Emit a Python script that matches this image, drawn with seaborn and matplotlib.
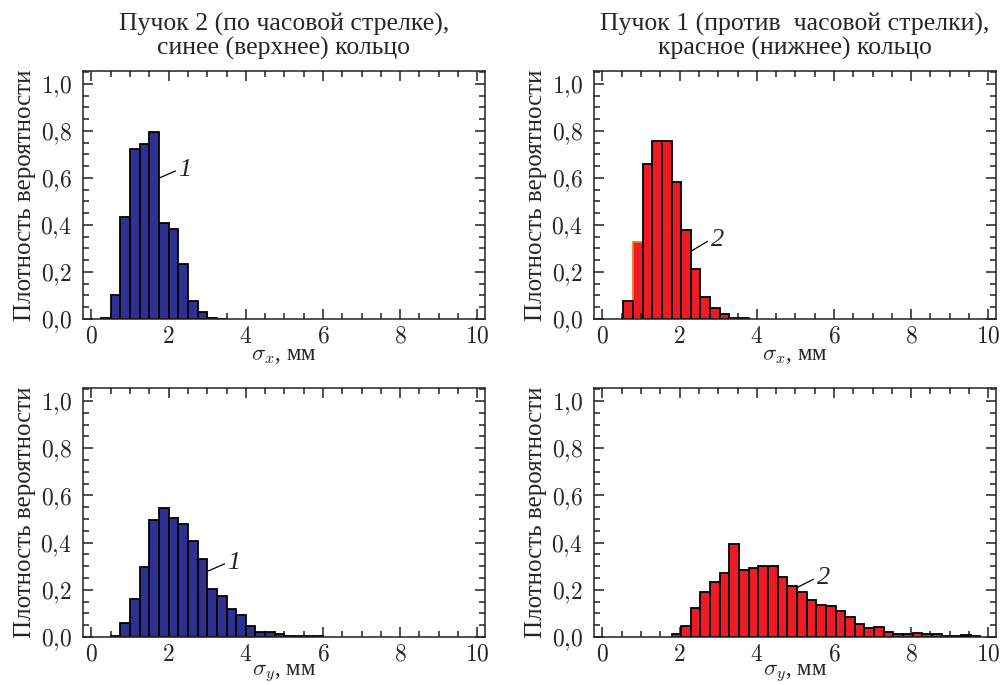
import numpy as np
import pandas as pd
import matplotlib
matplotlib.use("Agg")
import matplotlib.pyplot as plt
import seaborn as sns
from matplotlib.ticker import MultipleLocator, FuncFormatter

# ---- data (bin heights, bin width 0.25 mm) ----
bin_w = 0.25
tl_start = 0.25
tl_heights = [0.003, 0.10, 0.432, 0.722, 0.746, 0.795, 0.408, 0.384, 0.234,
              0.075, 0.031, 0.004, 0.002]
tr_start = 0.54
tr_heights = [0.075, 0.329, 0.659, 0.759, 0.758, 0.581, 0.377, 0.212, 0.093,
              0.047, 0.021, 0.003, 0.004]
tr_orange_bin = 1
bl_start = 0.5
bl_heights = [0.004, 0.061, 0.16, 0.295, 0.497, 0.545, 0.504, 0.480, 0.405,
              0.332, 0.205, 0.174, 0.119, 0.095, 0.047, 0.020, 0.020, 0.011,
              0.004, 0.004, 0.003, 0.003]
br_start = 1.79
br_heights = [0.013, 0.045, 0.123, 0.191, 0.232, 0.270, 0.393, 0.285, 0.294,
              0.301, 0.301, 0.254, 0.216, 0.191, 0.155, 0.136, 0.130, 0.112,
              0.086, 0.055, 0.040, 0.042, 0.020, 0.014, 0.011, 0.018, 0.011,
              0.013, 0.003, 0.003, 0.007, 0.003]

titles = ["Пучок 2 (по часовой стрелке),\nсинее (верхнее) кольцо",
          "Пучок 1 (против  часовой стрелки),\nкрасное (нижнее) кольцо"]
ylabel = "Плотность вероятности"
xlabels = [r"$\sigma_x$, мм", r"$\sigma_y$, мм"]
labels = ["1", "2"]
# annotation leader lines (data coords): (x0, y0, x1, y1, xt, yt)
annots = {
    "tl": (1.76, 0.60, 2.18, 0.63, 2.25, 0.635),
    "tr": (2.31, 0.29, 2.72, 0.33, 2.80, 0.335),
    "bl": (3.03, 0.28, 3.45, 0.31, 3.52, 0.315),
    "br": (5.05, 0.21, 5.47, 0.245, 5.55, 0.25),
}

blue = "#2E3192"
red = "#ED1C24"
orange = "#F47920"

sns.set_style("ticks")
plt.rcParams["font.family"] = ["Liberation Serif", "DejaVu Serif"]
plt.rcParams["mathtext.fontset"] = "cm"

fig = plt.figure(figsize=(10.04, 6.85), dpi=100)
W, H = 1004, 685
def add_ax(l, r, t, b):
    return fig.add_axes([l / W, 1 - b / H, (r - l) / W, (b - t) / H])

axes = {
    "tl": add_ax(83, 485, 71, 319),
    "tr": add_ax(594, 996, 71, 319),
    "bl": add_ax(83, 485, 388, 637),
    "br": add_ax(594, 996, 388, 637),
}

panels = {
    "tl": (tl_start, tl_heights, blue, 0, 0),
    "tr": (tr_start, tr_heights, red, 1, 0),
    "bl": (bl_start, bl_heights, blue, 0, 1),
    "br": (br_start, br_heights, red, 1, 1),
}

def yfmt(v, pos):
    return ("$%.1f$" % v).replace(".", "{,}")

def xfmt(v, pos):
    return "$%d$" % int(round(v))

for key, (start, heights, color, col, row) in panels.items():
    ax = axes[key]
    n = len(heights)
    centers = start + bin_w * (np.arange(n) + 0.5)
    df = pd.DataFrame({"x": centers, "w": heights})
    sns.histplot(data=df, x="x", weights="w", binwidth=bin_w,
                 binrange=(start, start + n * bin_w), stat="count",
                 color=color, alpha=1, edgecolor="black", linewidth=1.3, ax=ax)
    if key == "tr":
        p = ax.patches[tr_orange_bin]
        p.set_edgecolor(orange)
        p.set_zorder(0.5)
    ax.set_xlim(-0.22, 10.2)
    ax.set_ylim(0, 1.055)
    ax.xaxis.set_major_locator(MultipleLocator(2))
    ax.xaxis.set_minor_locator(MultipleLocator(0.5))
    ax.yaxis.set_major_locator(MultipleLocator(0.2))
    ax.yaxis.set_minor_locator(MultipleLocator(0.05))
    ax.xaxis.set_major_formatter(FuncFormatter(xfmt))
    ax.yaxis.set_major_formatter(FuncFormatter(yfmt))
    ax.tick_params(which="both", direction="in", top=True, right=True,
                   color="#222222", width=1.1, labelsize=17)
    ax.tick_params(which="major", length=7.5)
    ax.tick_params(axis="x", which="major", pad=5.5)
    ax.tick_params(axis="y", which="major", pad=8)
    ax.tick_params(which="minor", length=4.3)
    for s in ax.spines.values():
        s.set_linewidth(1.1)
        s.set_color("#222222")
    ax.set_ylabel(ylabel, fontsize=18, labelpad=3)
    ax.set_xlabel(xlabels[row], fontsize=16.5, labelpad=-2)
    if row == 0:
        ax.set_title(titles[col], fontsize=18.5, pad=12, linespacing=1.05)
    x0, y0, x1, y1, xt, yt = annots[key]
    ax.plot([x0, x1], [y0, y1], color="black", lw=0.9)
    ax.text(xt, yt, labels[col], fontsize=19, fontstyle="italic",
            ha="left", va="center")

fig.savefig("out.png", dpi=100)
